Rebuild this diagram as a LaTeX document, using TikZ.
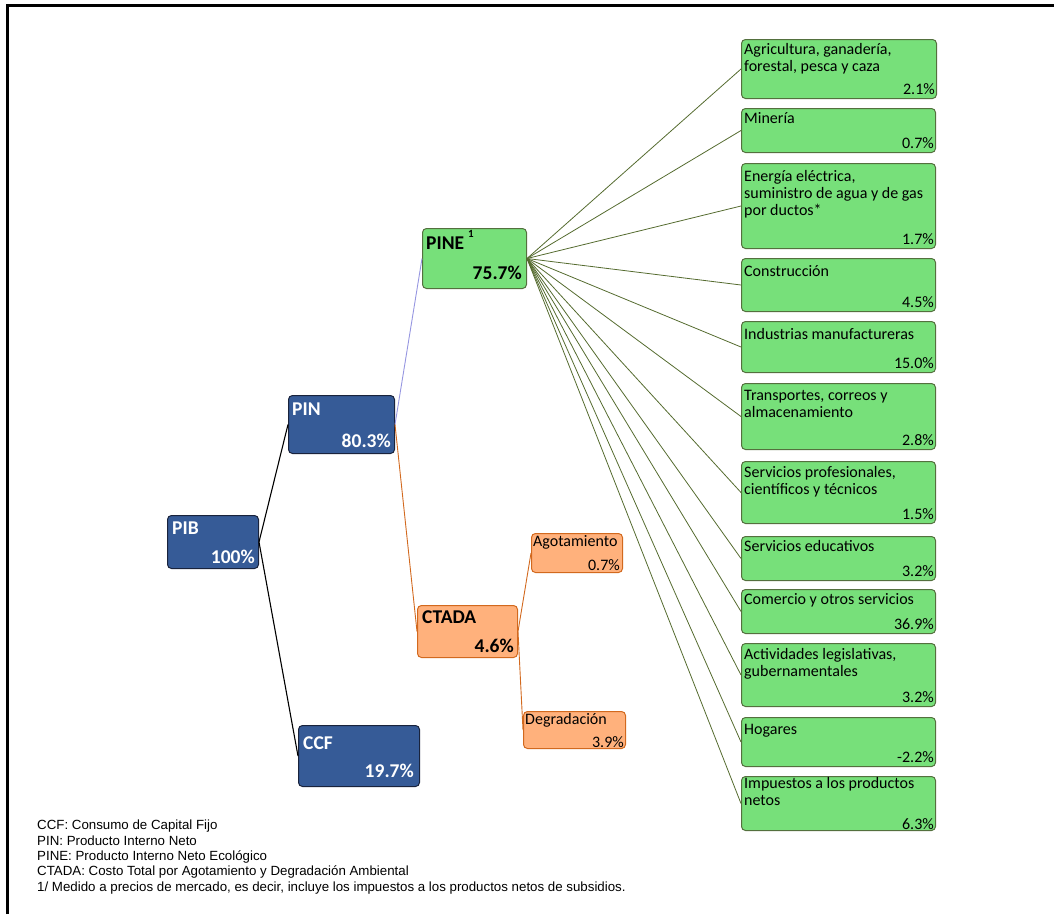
\documentclass[tikz,border=0pt]{standalone}
\usepackage{fontspec}
\setmainfont{Carlito}
\newfontfamily\notefont{Liberation Sans}
\usetikzlibrary{positioning}
\definecolor{pibblue}{RGB}{54,91,151}
\definecolor{pibline}{RGB}{25,35,60}
\definecolor{pinegreen}{RGB}{119,224,122}
\definecolor{pineline}{RGB}{84,112,62}
\definecolor{fanline}{RGB}{85,107,47}
\definecolor{ctadaorange}{RGB}{255,177,124}
\definecolor{ctadaline}{RGB}{210,105,30}
\definecolor{pinline}{RGB}{150,150,225}
\tikzset{
  box/.style={anchor=north west,inner sep=0pt,rounded corners=4pt,line width=1pt},
  bluebox/.style={box,draw=pibline,fill=pibblue},
  greenbox/.style={box,draw=pineline,fill=pinegreen},
  orangebox/.style={box,draw=ctadaline,fill=ctadaorange},
  toptxt/.style={anchor=north west,inner xsep=3pt,inner ysep=4pt,align=left},
  pcttxt/.style={anchor=south east,inner xsep=2pt,inner ysep=4pt},
  bigtxt/.style={font=\fontsize{19.5}{22}\selectfont\bfseries},
  smalltxt/.style={font=\fontsize{16}{17.2}\selectfont},
}
\begin{document}
\begin{tikzpicture}[x=1pt,y=-1pt]
\useasboundingbox (0,0) rectangle (1054,914);
\draw[line width=3pt] (7,914) -- (7,5) -- (1054,5);
% main tree
\node[bluebox,minimum width=91pt,minimum height=53pt] (pib) at (167,515) {};
\node[bluebox,minimum width=106pt,minimum height=58pt] (pin) at (288,395) {};
\node[bluebox,minimum width=121pt,minimum height=61pt] (ccf) at (298,725) {};
\node[greenbox,minimum width=104pt,minimum height=60pt] (pine) at (422,228) {};
\node[orangebox,minimum width=100pt,minimum height=52pt] (ctada) at (417,605) {};
\node[orangebox,minimum width=91pt,minimum height=39pt] (agot) at (531,533) {};
\node[orangebox,minimum width=102pt,minimum height=37pt] (degr) at (523,711) {};
\node[bigtxt,white,toptxt,inner xsep=5pt,inner ysep=7pt] (pib-t) at (pib.north west) {PIB};
\node[bigtxt,white,pcttxt,inner xsep=4pt,inner ysep=5pt] (pib-v) at (pib.south east) {100\%};
\node[bigtxt,white,toptxt,inner xsep=4pt,inner ysep=8pt] (pin-t) at (pin.north west) {PIN};
\node[bigtxt,white,pcttxt,inner xsep=4pt,inner ysep=6pt] (pin-v) at (pin.south east) {80.3\%};
\node[bigtxt,white,toptxt,inner xsep=5pt,inner ysep=11pt] (ccf-t) at (ccf.north west) {CCF};
\node[bigtxt,white,pcttxt,inner xsep=6pt,inner ysep=9pt] (ccf-v) at (ccf.south east) {19.7\%};
\node[bigtxt,toptxt,inner xsep=4pt,inner ysep=9pt] (pine-t) at (pine.north west) {PINE};
\node[font=\fontsize{11}{12}\selectfont\bfseries,anchor=north west,inner sep=0pt] (pine-s) at (468,230) {1};
\node[bigtxt,pcttxt,inner xsep=5pt,inner ysep=9pt] (pine-v) at (pine.south east) {75.7\%};
\node[bigtxt,toptxt,inner xsep=5pt,inner ysep=5pt] (ctada-t) at (ctada.north west) {CTADA};
\node[bigtxt,pcttxt,inner xsep=4pt,inner ysep=5pt] (ctada-v) at (ctada.south east) {4.6\%};
\node[smalltxt,toptxt,inner xsep=2pt,inner ysep=2pt] (agot-t) at (agot.north west) {Agotamiento};
\node[smalltxt,pcttxt,inner xsep=3pt,inner ysep=2pt] (agot-v) at (agot.south east) {0.7\%};
\node[smalltxt,toptxt,inner xsep=2pt,inner ysep=2pt] (degr-t) at (degr.north west) {Degradación};
\node[smalltxt,pcttxt,inner xsep=2pt,inner ysep=1pt] (degr-v) at (degr.south east) {3.9\%};
\draw[line width=1.1pt] (pib.east) -- (pin.west);
\draw[line width=1.1pt] (pib.east) -- (ccf.west);
\draw[pinline,line width=0.9pt] (pin.east) -- (pine.west);
\draw[ctadaline,line width=0.9pt] (pin.east) -- (ctada.west);
\draw[ctadaline,line width=0.9pt] (ctada.east) -- (agot.west);
\draw[ctadaline,line width=0.9pt] (ctada.east) -- (degr.west);
% sectors of PINE
\node[greenbox,minimum width=195pt,minimum height=59pt] (agri) at (741,39) {};
\node[greenbox,minimum width=194pt,minimum height=44pt] (mine) at (741,108) {};
\node[greenbox,minimum width=194pt,minimum height=85pt] (ener) at (741,163) {};
\node[greenbox,minimum width=194pt,minimum height=53pt] (cons) at (741,258) {};
\node[greenbox,minimum width=194pt,minimum height=51pt] (indu) at (741,321) {};
\node[greenbox,minimum width=194pt,minimum height=66pt] (tran) at (741,383) {};
\node[greenbox,minimum width=194pt,minimum height=62pt] (serp) at (741,461) {};
\node[greenbox,minimum width=194pt,minimum height=44pt] (sere) at (741,536) {};
\node[greenbox,minimum width=194pt,minimum height=44pt] (come) at (741,589) {};
\node[greenbox,minimum width=194pt,minimum height=63pt] (acti) at (741,643) {};
\node[greenbox,minimum width=194pt,minimum height=49pt] (hoga) at (741,717) {};
\node[greenbox,minimum width=194pt,minimum height=54pt] (impu) at (741,776) {};
\node[smalltxt,toptxt] (agri-t) at (agri.north west) {Agricultura, ganadería,\\forestal, pesca y caza};
\node[smalltxt,pcttxt] (agri-v) at (agri.south east) {2.1\%};
\node[smalltxt,toptxt] (mine-t) at (mine.north west) {Minería};
\node[smalltxt,pcttxt] (mine-v) at (mine.south east) {0.7\%};
\node[smalltxt,toptxt,inner ysep=7pt] (ener-t) at (ener.north west) {Energía eléctrica,\\suministro de agua y de gas\\por ductos*};
\node[smalltxt,pcttxt] (ener-v) at (ener.south east) {1.7\%};
\node[smalltxt,toptxt,inner ysep=7pt] (cons-t) at (cons.north west) {Construcción};
\node[smalltxt,pcttxt] (cons-v) at (cons.south east) {4.5\%};
\node[smalltxt,toptxt,inner ysep=7pt] (indu-t) at (indu.north west) {Industrias manufactureras};
\node[smalltxt,pcttxt] (indu-v) at (indu.south east) {15.0\%};
\node[smalltxt,toptxt,inner ysep=7pt] (tran-t) at (tran.north west) {Transportes, correos y\\almacenamiento};
\node[smalltxt,pcttxt] (tran-v) at (tran.south east) {2.8\%};
\node[smalltxt,toptxt,inner ysep=5pt] (serp-t) at (serp.north west) {Servicios profesionales,\\científicos y técnicos};
\node[smalltxt,pcttxt] (serp-v) at (serp.south east) {1.5\%};
\node[smalltxt,toptxt] (sere-t) at (sere.north west) {Servicios educativos};
\node[smalltxt,pcttxt] (sere-v) at (sere.south east) {3.2\%};
\node[smalltxt,toptxt] (come-t) at (come.north west) {Comercio y otros servicios};
\node[smalltxt,pcttxt] (come-v) at (come.south east) {36.9\%};
\node[smalltxt,toptxt,inner ysep=5pt] (acti-t) at (acti.north west) {Actividades legislativas,\\gubernamentales};
\node[smalltxt,pcttxt] (acti-v) at (acti.south east) {3.2\%};
\node[smalltxt,toptxt,inner ysep=7pt] (hoga-t) at (hoga.north west) {Hogares};
\node[smalltxt,pcttxt] (hoga-v) at (hoga.south east) {-2.2\%};
\node[smalltxt,toptxt,inner ysep=1pt] (impu-t) at (impu.north west) {Impuestos a los productos\\netos};
\node[smalltxt,pcttxt,inner ysep=1pt] (impu-v) at (impu.south east) {6.3\%};
\draw[fanline,line width=0.8pt] (pine.east) -- (agri.west);
\draw[fanline,line width=0.8pt] (pine.east) -- (mine.west);
\draw[fanline,line width=0.8pt] (pine.east) -- (ener.west);
\draw[fanline,line width=0.8pt] (pine.east) -- (cons.west);
\draw[fanline,line width=0.8pt] (pine.east) -- (indu.west);
\draw[fanline,line width=0.8pt] (pine.east) -- (tran.west);
\draw[fanline,line width=0.8pt] (pine.east) -- (serp.west);
\draw[fanline,line width=0.8pt] (pine.east) -- (sere.west);
\draw[fanline,line width=0.8pt] (pine.east) -- (come.west);
\draw[fanline,line width=0.8pt] (pine.east) -- (acti.west);
\draw[fanline,line width=0.8pt] (pine.east) -- (hoga.west);
\draw[fanline,line width=0.8pt] (pine.east) -- (impu.west);
% notes
\node[anchor=north west,inner sep=0pt,align=left,font=\notefont\fontsize{13.3}{15.3}\selectfont] (notes) at (37,820)
  {CCF: Consumo de Capital Fijo\\
   PIN: Producto Interno Neto\\
   PINE: Producto Interno Neto Ecológico\\
   CTADA: Costo Total por Agotamiento y Degradación Ambiental\\
   1/ Medido a precios de mercado, es decir, incluye los impuestos a los productos netos de subsidios.};
\end{tikzpicture}
\end{document}
